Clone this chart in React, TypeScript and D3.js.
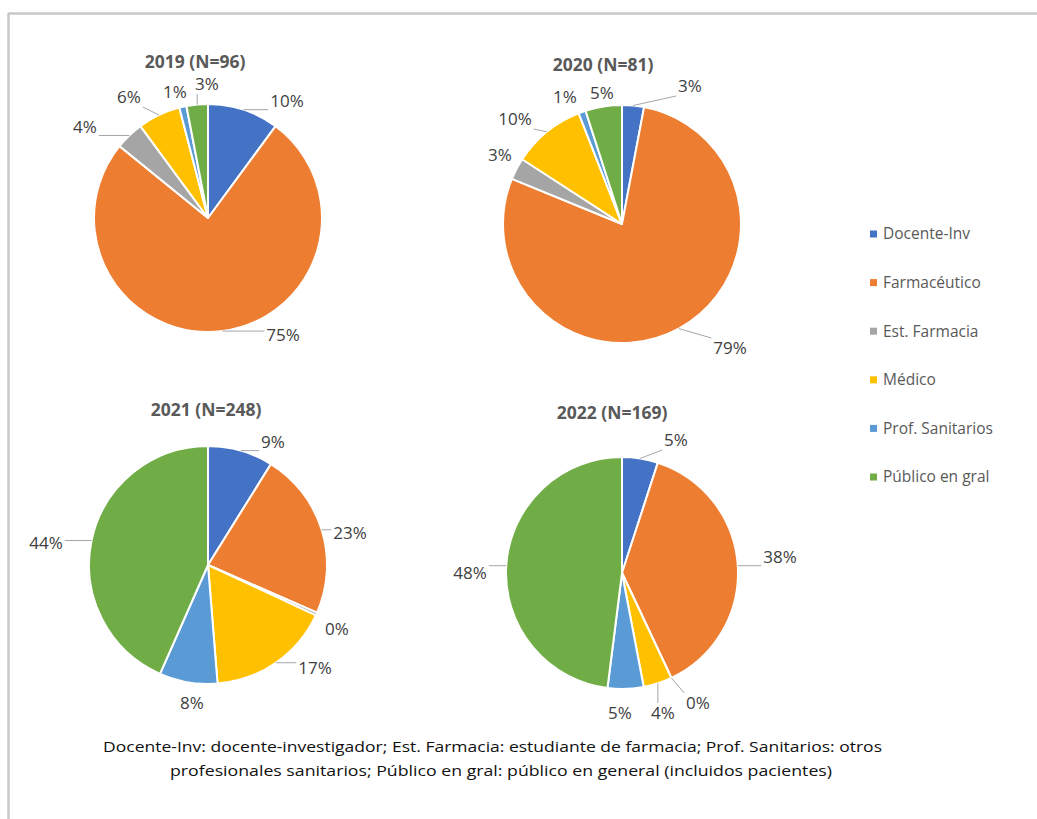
import React from 'react'
import * as d3 from 'd3'

const categories = ['Docente-Inv', 'Farmacéutico', 'Est. Farmacia', 'Médico', 'Prof. Sanitarios', 'Público en gral']
const colors = ['#4472C4', '#ED7D31', '#A5A5A5', '#FFC000', '#5B9BD5', '#70AD47']
const years = ['2019', '2020', '2021', '2022']
const sampleSizes = [96, 81, 248, 169]

// % per group, in category order
const values2019 = [10, 75, 4, 6, 1, 3]
const values2020 = [3, 79, 3, 10, 1, 5]
const values2021 = [9, 23, 0.4, 17, 8, 44]
const values2022 = [5, 38, 0, 4, 5, 48]
const allValues = [values2019, values2020, values2021, values2022]

const footnote = [
  'Docente-Inv: docente-investigador; Est. Farmacia: estudiante de farmacia; Prof. Sanitarios: otros',
  'profesionales sanitarios; Público en gral: público en general (incluidos pacientes)',
]

// where each pie sits + manual label placement (like excel's moved labels)
const pieLayout = [
  { cx: 208, cy: 218, r: 114, tx: 195, ty: 62,
    offs: [[79, -117], [75, 117], [-123, -91], [-79, -121], [-33, -126], [-1, -134]],
    leader: [1, 1, 1, 1, 0, 1] },
  { cx: 622, cy: 224, r: 119, tx: 603, ty: 65,
    offs: [[68, -138], [108, 124], [-122, -69], [-107, -105], [-57, -127], [-20, -131]],
    leader: [1, 1, 0, 1, 0, 0] },
  { cx: 208, cy: 565, r: 119, tx: 206, ty: 410,
    offs: [[65, -123], [142, -32], [129, 64], [107, 103], [-16, 138], [-162, -22]],
    leader: [1, 1, 0, 1, 0, 1] },
  { cx: 622, cy: 573, r: 116, tx: 612, ty: 413,
    offs: [[54, -133], [158, -16], [76, 130], [41, 140], [-2, 140], [-152, 0]],
    leader: [1, 1, 1, 1, 0, 1] },
]

const font = '"Open Sans", sans-serif'

const Pie = ({ idx }: { idx: number }) => {
  const lay = pieLayout[idx]
  const vals = allValues[idx]
  const pie = d3.pie<number>().sort(null).value((d) => d)
  const arcs = pie(vals)
  const arc = d3.arc<d3.PieArcDatum<number>>().innerRadius(0).outerRadius(lay.r)

  return (
    <g>
      <text x={lay.tx} y={lay.ty} dy="0.35em" textAnchor="middle" fontFamily={font}
        fontWeight={700} fontSize={17.5} fill="#595959">
        {`${years[idx]} (N=${sampleSizes[idx]})`}
      </text>
      <g transform={`translate(${lay.cx},${lay.cy})`}>
        {arcs.map((a, i) => (
          <path key={i} d={arc(a) || ''} fill={colors[i]} stroke="#fff" strokeWidth={2} strokeLinejoin="round" />
        ))}
        {arcs.map((a, i) => {
          const label = `${Math.round(a.data)}%`
          const [dx, dy] = lay.offs[i]
          const mid = (a.startAngle + a.endAngle) / 2
          const px = Math.sin(mid) * lay.r
          const py = -Math.cos(mid) * lay.r
          const hw = ((label.length - 1) * 9.7 + 14) / 2 + 2
          const hh = 10
          const ex = Math.max(dx - hw, Math.min(px, dx + hw))
          const ey = Math.max(dy - hh, Math.min(py, dy + hh))
          return (
            <g key={'l' + i}>
              {lay.leader[i] ? (
                <line x1={px} y1={py} x2={ex} y2={ey} stroke="#a6a6a6" strokeWidth={1} />
              ) : null}
              <text x={dx} y={dy} dy="0.35em" textAnchor="middle" fontFamily={font}
                fontSize={17} fill="#404040">{label}</text>
            </g>
          )
        })}
      </g>
    </g>
  )
}

const App = () => {
  const legendY = d3.scalePoint<string>().domain(categories).range([234, 477])

  return (
    <svg width={1037} height={819} style={{ position: 'absolute', left: 0, top: 0, background: '#fff' }}>
      <rect x={0} y={0} width={1037} height={819} fill="#fff" />
      <line x1={8} y1={13.5} x2={1037} y2={13.5} stroke="#c8c8c8" strokeWidth={2.5} />
      <line x1={8.5} y1={13} x2={8.5} y2={819} stroke="#c8c8c8" strokeWidth={2.5} />

      {years.map((y, i) => <Pie key={y} idx={i} />)}

      {categories.map((c, i) => (
        <g key={c} transform={`translate(870,${legendY(c)})`}>
          <rect x={0} y={-3.5} width={7} height={7} fill={colors[i]} />
          <text x={13} y={0} dy="0.35em" fontFamily={font} fontSize={15.5} fill="#595959">{c}</text>
        </g>
      ))}

      <text x={492.5} y={747} dy="0.35em" textAnchor="middle" fontFamily={font} fontSize={15}
        fill="#111" textLength={779} lengthAdjust="spacingAndGlyphs">{footnote[0]}</text>
      <text x={501} y={771} dy="0.35em" textAnchor="middle" fontFamily={font} fontSize={15}
        fill="#111" textLength={662} lengthAdjust="spacingAndGlyphs">{footnote[1]}</text>
    </svg>
  )
}

export default App
